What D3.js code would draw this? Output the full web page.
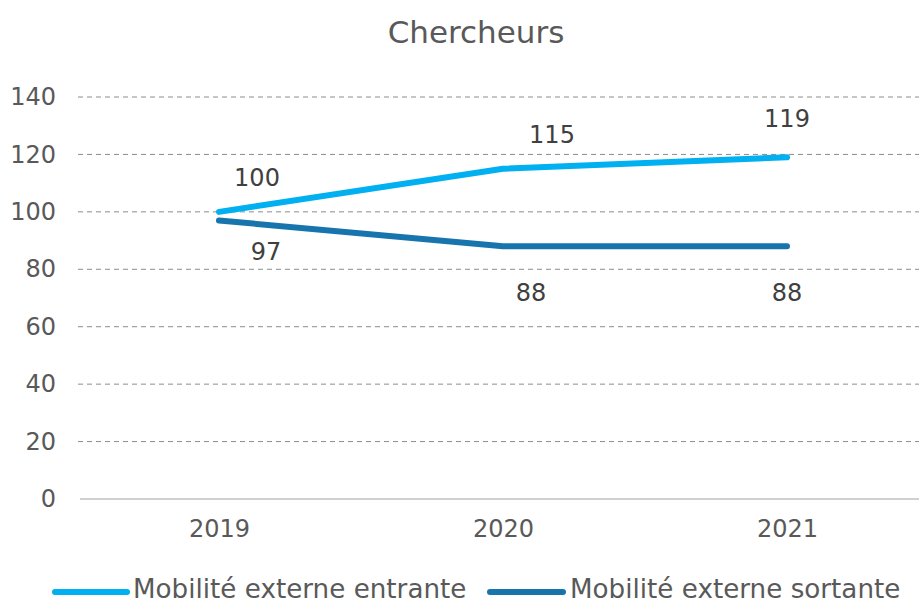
<!DOCTYPE html>
<html><head><meta charset="utf-8">
<script src="https://cdn.jsdelivr.net/npm/d3@7"></script>
<style>body{margin:0;background:#fff}svg{display:block}text{font-family:"DejaVu Sans",sans-serif;fill:#595959}</style>
</head><body>
<script>
const years = ["2019","2020","2021"];
const entrante = [100,115,119];
const sortante = [97,88,88];
const seriesNames = ["Mobilité externe entrante","Mobilité externe sortante"];
const yTicks = [0,20,40,60,80,100,120,140];
const title = "Chercheurs";

const W=919,H=606;
const FONT="DejaVu Sans";
const svg=d3.select("body").append("svg").attr("width",W).attr("height",H);
const x=d3.scalePoint().domain(years).range([219,787]);
const y=d3.scaleLinear().domain([0,140]).range([499,97]);
const colors=["#00B0F0","#1874AD"];

svg.append("text").attr("x",476).attr("y",43).attr("text-anchor","middle").attr("font-size",31).text(title);

const grid=svg.append("g");
yTicks.forEach(t=>{
  if(t===0){
    grid.append("line").attr("x1",80).attr("x2",919).attr("y1",y(t)).attr("y2",y(t)).attr("stroke","#d0d0d0").attr("stroke-width",2);
  } else {
    grid.append("line").attr("x1",78).attr("x2",919).attr("y1",y(t)).attr("y2",y(t)).attr("stroke","#8c8c8c").attr("stroke-width",1).attr("stroke-dasharray","5,4");
  }
});
const yAxis=svg.append("g").attr("transform","translate(56,0)").call(d3.axisLeft(y).tickValues(yTicks).tickSize(0).tickPadding(0));
yAxis.select(".domain").remove();
yAxis.selectAll("text").attr("font-size",24).attr("font-family",FONT).attr("fill","#595959");

const xAxis=svg.append("g").attr("transform","translate(0,499)").call(d3.axisBottom(x).tickSize(0).tickPadding(0));
xAxis.select(".domain").remove();
xAxis.selectAll("text").attr("font-size",24).attr("font-family",FONT).attr("fill","#595959").attr("dy",null).attr("y",38);

const line=d3.line().x((d,i)=>x(years[i])).y(d=>y(d));
[entrante,sortante].forEach((s,k)=>{
  svg.append("path").attr("d",line(s)).attr("fill","none").attr("stroke",colors[k]).attr("stroke-width",6).attr("stroke-linecap","round").attr("stroke-linejoin","round");
});

const labDx=[[38,49,0],[47,28,0]];
const labDy=[[-26,-26,-30],[40,55,55]];
[entrante,sortante].forEach((s,k)=>{
  s.forEach((v,i)=>{
    svg.append("text").attr("x",x(years[i])+labDx[k][i]).attr("y",y(v)+labDy[k][i]).attr("text-anchor","middle").attr("font-size",24).style("fill","#404040").text(v);
  });
});

const lg=[{x1:55,x2:127,tx:133},{x1:490,x2:563,tx:570}];
seriesNames.forEach((n,k)=>{
  svg.append("line").attr("x1",lg[k].x1).attr("x2",lg[k].x2).attr("y1",592).attr("y2",592).attr("stroke",colors[k]).attr("stroke-width",6).attr("stroke-linecap","round");
  svg.append("text").attr("x",lg[k].tx).attr("y",598).attr("font-size",26.2).text(n);
});
</script>
</body></html>
